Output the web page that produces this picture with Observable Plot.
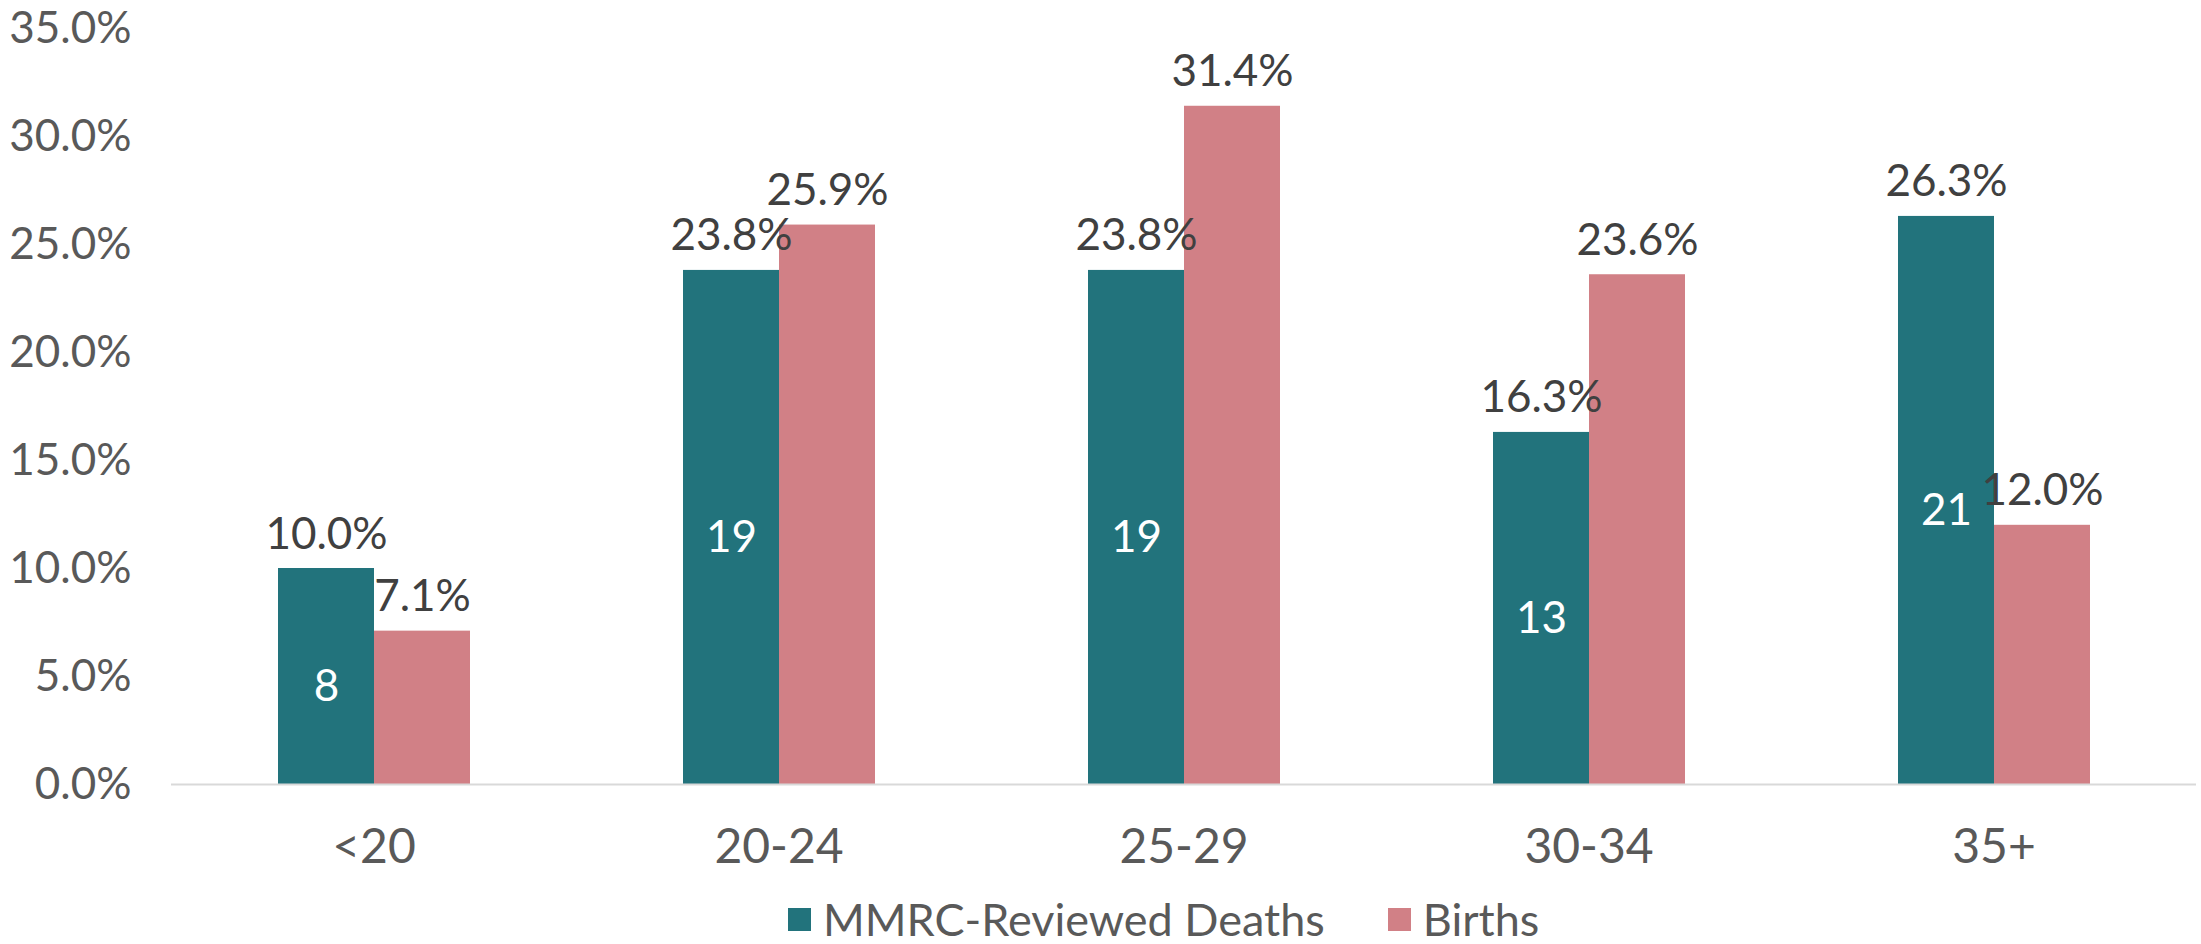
<!DOCTYPE html>
<html>
<head>
<meta charset="utf-8">
<script src="https://cdn.jsdelivr.net/npm/d3@7"></script>
<script src="https://cdn.jsdelivr.net/npm/@observablehq/plot@0.6"></script>
<style>
  html, body { margin: 0; padding: 0; background: #ffffff; }
  body { width: 2201px; height: 944px; overflow: hidden; font-family: Lato, "Noto Sans", sans-serif; }
  #chart svg { display: block; }
  #legend { display: flex; align-items: center; height: 68px; padding-left: 788px; color: #595959; font-size: 45px; line-height: 1; }
  .item { display: flex; align-items: center; margin-right: 63px; }
  .sw { width: 23px; height: 23px; margin-right: 12px; }
</style>
</head>
<body>
<div id="chart"></div>
<div id="legend"></div>
<script>
const ageGroups = ["<20", "20-24", "25-29", "30-34", "35+"];
const seriesNames = ["MMRC-Reviewed Deaths", "Births"];
const deathsPct = [10.0, 23.8, 23.8, 16.3, 26.3];
const deathsCount = [8, 19, 19, 13, 21];
const birthsPct = [7.1, 25.9, 31.4, 23.6, 12.0];
const seriesColors = ["#22737C", "#D18086"];
const yTicks = [0, 5, 10, 15, 20, 25, 30, 35];

const rows = [];
ageGroups.forEach((age, i) => {
  rows.push({age, series: seriesNames[0], value: deathsPct[i], count: deathsCount[i]});
  rows.push({age, series: seriesNames[1], value: birthsPct[i], count: null});
});
const deathRows = rows.filter(d => d.series === seriesNames[0]);

const chart = Plot.plot({
  width: 2201,
  height: 885,
  marginLeft: 170,
  marginRight: 5,
  marginTop: 28,
  marginBottom: 101,
  style: {fontFamily: "Lato, 'Noto Sans', sans-serif", fontSize: "44px", color: "#595959", background: "#ffffff"},
  fx: {domain: ageGroups, paddingInner: 0, paddingOuter: 0},
  x: {domain: seriesNames, paddingInner: 0, paddingOuter: 1.1, axis: null},
  y: {domain: [0, 35], axis: null},
  color: {domain: seriesNames, range: seriesColors},
  marks: [
    Plot.axisY({ticks: yTicks, tickFormat: d => d.toFixed(1) + "%", tickSize: 0, tickPadding: 40, fontSize: 44, fill: "#595959", label: null}),
    Plot.axisFx({anchor: "bottom", tickSize: 0, tickPadding: 44, fontSize: 48, fill: "#595959", label: null}),
    Plot.barY(rows, {fx: "age", x: "series", y: "value", fill: "series"}),
    Plot.ruleY([0], {stroke: "#d9d9d9", strokeWidth: 2}),
    Plot.text(rows, {fx: "age", x: "series", y: "value", text: d => d.value.toFixed(1) + "%", lineAnchor: "bottom", dy: -20, fontSize: 44, fill: "#404040"}),
    Plot.text(deathRows, {fx: "age", x: "series", y: d => d.value / 2, text: d => String(d.count), dy: 10, fontSize: 44, fill: "#ffffff"})
  ]
});
document.getElementById("chart").appendChild(chart);

const legend = document.getElementById("legend");
seriesNames.forEach((name, i) => {
  const item = document.createElement("div");
  item.className = "item";
  const sw = document.createElement("div");
  sw.className = "sw";
  sw.style.background = seriesColors[i];
  const lab = document.createElement("span");
  lab.textContent = name;
  item.appendChild(sw);
  item.appendChild(lab);
  legend.appendChild(item);
});
</script>
</body>
</html>
